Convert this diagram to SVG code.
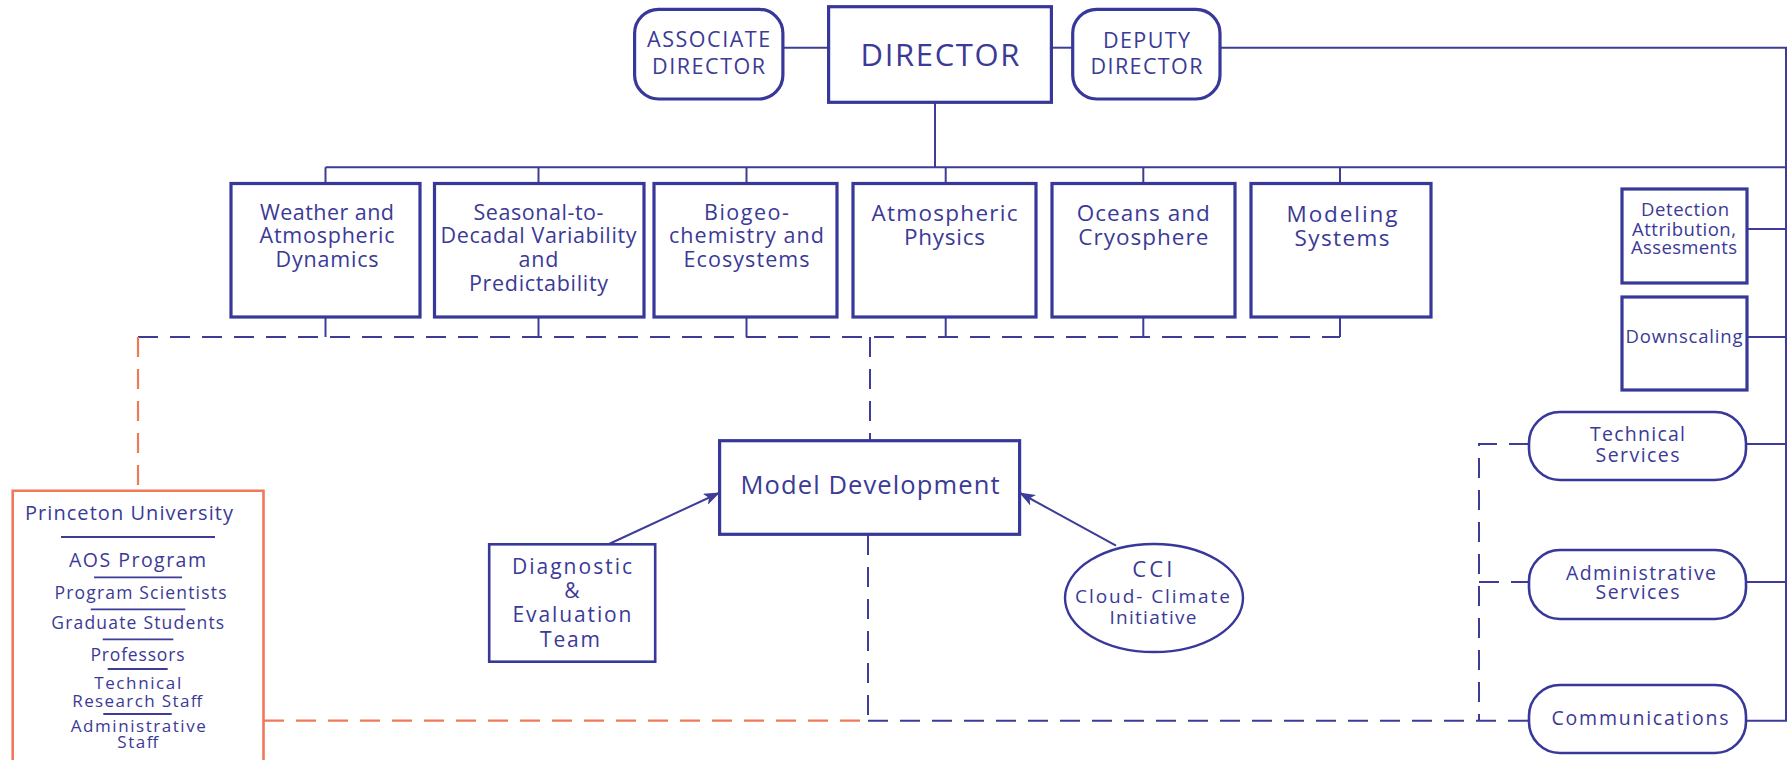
<svg xmlns="http://www.w3.org/2000/svg" width="1790" height="760" viewBox="0 0 1790 760">
<defs>
<style>
.bx{fill:#fff;stroke:#38379a;stroke-width:3.2}
.bt{fill:#fff;stroke:#38379a;stroke-width:2.6}
.ln{fill:none;stroke:#3d3c98;stroke-width:2}
.dl{fill:none;stroke:#3d3c98;stroke-width:2;stroke-dasharray:20 12}
.od{fill:none;stroke:#f0795b;stroke-width:2.2;stroke-dasharray:20 12}
.ob{fill:#fff;stroke:#f0795b;stroke-width:2.6}
.sep{stroke:#3d3c98;stroke-width:1.8}
text{font-family:"Open Sans","Noto Sans","DejaVu Sans",sans-serif;fill:#3b3a96;text-anchor:middle}
</style>
<marker id="ah" markerWidth="16" markerHeight="12" refX="15" refY="6" orient="auto" markerUnits="userSpaceOnUse">
<path d="M0,0 L16,6 L0,12 L4,6 Z" fill="#3d3c98"/>
</marker>
</defs>
<rect width="1790" height="760" fill="#fff"/>

<g id="connectors">
<line class="ln" x1="782" y1="47.7" x2="829" y2="47.7"/>
<line class="ln" x1="1051" y1="47.7" x2="1073" y2="47.7"/>
<polyline class="ln" points="1220,47.7 1786,47.7 1786,720.7 1746,720.7"/>
<line class="ln" x1="935" y1="102" x2="935" y2="167.3"/>
<line class="ln" x1="325.5" y1="167.3" x2="1786" y2="167.3"/>
<line class="ln" x1="325.5" y1="167.3" x2="325.5" y2="183.5"/>
<line class="ln" x1="538.5" y1="167.3" x2="538.5" y2="183.5"/>
<line class="ln" x1="746.5" y1="167.3" x2="746.5" y2="183.5"/>
<line class="ln" x1="945.7" y1="167.3" x2="945.7" y2="183.5"/>
<line class="ln" x1="1143.3" y1="167.3" x2="1143.3" y2="183.5"/>
<line class="ln" x1="1340" y1="167.3" x2="1340" y2="183.5"/>
<line class="ln" x1="325.5" y1="317" x2="325.5" y2="337"/>
<line class="ln" x1="538.5" y1="317" x2="538.5" y2="337"/>
<line class="ln" x1="746.5" y1="317" x2="746.5" y2="337"/>
<line class="ln" x1="945.7" y1="317" x2="945.7" y2="337"/>
<line class="ln" x1="1143.3" y1="317" x2="1143.3" y2="337"/>
<line class="ln" x1="1340" y1="317" x2="1340" y2="337"/>
<line class="ln" x1="1747" y1="229" x2="1786" y2="229"/>
<line class="ln" x1="1747" y1="337" x2="1786" y2="337"/>
<line class="ln" x1="1746" y1="444" x2="1786" y2="444"/>
<line class="ln" x1="1746" y1="582" x2="1786" y2="582"/>
<line class="dl" x1="138" y1="337" x2="1340" y2="337"/>
<line class="od" x1="138" y1="337" x2="138" y2="491"/>
<line class="dl" x1="870" y1="337" x2="870" y2="440"/>
<line class="dl" x1="868" y1="535" x2="868" y2="720.7"/>
<line class="od" x1="264" y1="720.7" x2="868" y2="720.7"/>
<line class="dl" x1="868" y1="720.7" x2="1529" y2="720.7"/>
<polyline class="dl" points="1529,444 1479,444 1479,720.7"/>
<line class="dl" x1="1479" y1="582" x2="1529" y2="582"/>
<line class="ln" x1="609" y1="544" x2="719" y2="493" marker-end="url(#ah)"/>
<line class="ln" x1="1116" y1="545.7" x2="1020" y2="493" marker-end="url(#ah)"/>
</g>

<g id="associate-director">
<rect class="bx" x="634.6" y="9.3" width="148.3" height="89.7" rx="24"/>
<text x="708.6" y="46.7" font-size="21.5" textLength="123" lengthAdjust="spacing">ASSOCIATE</text>
<text x="708.6" y="74" font-size="21.5" textLength="113" lengthAdjust="spacing">DIRECTOR</text>
</g>
<g id="director">
<rect class="bx" x="828.6" y="6.7" width="222.8" height="95.6"/>
<text x="940" y="65.7" font-size="31" textLength="159" lengthAdjust="spacing">DIRECTOR</text>
</g>
<g id="deputy-director">
<rect class="bx" x="1072.7" y="9.3" width="147.3" height="89.7" rx="24"/>
<text x="1146.5" y="47.7" font-size="21.5" textLength="87" lengthAdjust="spacing">DEPUTY</text>
<text x="1146.5" y="74" font-size="21.5" textLength="112" lengthAdjust="spacing">DIRECTOR</text>
</g>

<g id="weather">
<rect class="bx" x="231" y="183.5" width="189" height="133.5"/>
<text x="327" y="220" font-size="21.5" textLength="134" lengthAdjust="spacing">Weather and</text>
<text x="327" y="242.7" font-size="21.5" textLength="135" lengthAdjust="spacing">Atmospheric</text>
<text x="327" y="266.7" font-size="21.5" textLength="103" lengthAdjust="spacing">Dynamics</text>
</g>
<g id="seasonal">
<rect class="bx" x="434.5" y="183.5" width="209.5" height="133.5"/>
<text x="538.5" y="220" font-size="21.5" textLength="130" lengthAdjust="spacing">Seasonal-to-</text>
<text x="538.5" y="243.3" font-size="21.5" textLength="196" lengthAdjust="spacing">Decadal Variability</text>
<text x="538.5" y="266.7" font-size="21.5" textLength="40" lengthAdjust="spacing">and</text>
<text x="538.5" y="290.7" font-size="21.5" textLength="139" lengthAdjust="spacing">Predictability</text>
</g>
<g id="biogeochemistry">
<rect class="bx" x="654" y="183.5" width="183" height="133.5"/>
<text x="746.5" y="220" font-size="21.5" textLength="85" lengthAdjust="spacing">Biogeo-</text>
<text x="746.5" y="243.3" font-size="21.5" textLength="155" lengthAdjust="spacing">chemistry and</text>
<text x="746.5" y="266.7" font-size="21.5" textLength="126" lengthAdjust="spacing">Ecosystems</text>
</g>
<g id="atmospheric-physics">
<rect class="bx" x="853" y="183.5" width="183" height="133.5"/>
<text x="944.5" y="220.7" font-size="22.5" textLength="146" lengthAdjust="spacing">Atmospheric</text>
<text x="944.5" y="245" font-size="22.5" textLength="81" lengthAdjust="spacing">Physics</text>
</g>
<g id="oceans">
<rect class="bx" x="1052" y="183.5" width="183" height="133.5"/>
<text x="1143.3" y="220.7" font-size="22.5" textLength="133" lengthAdjust="spacing">Oceans and</text>
<text x="1143.3" y="245" font-size="22.5" textLength="130" lengthAdjust="spacing">Cryosphere</text>
</g>
<g id="modeling-systems">
<rect class="bx" x="1251" y="183.5" width="180" height="133.5"/>
<text x="1342" y="221.7" font-size="22.5" textLength="111" lengthAdjust="spacing">Modeling</text>
<text x="1342" y="246" font-size="22.5" textLength="95" lengthAdjust="spacing">Systems</text>
</g>

<g id="detection">
<rect class="bx" x="1622" y="189" width="125" height="94"/>
<text x="1685" y="216" font-size="18.5" textLength="88" lengthAdjust="spacing">Detection</text>
<text x="1684" y="235.7" font-size="18.5" textLength="104" lengthAdjust="spacing">Attribution,</text>
<text x="1684" y="254" font-size="18.5" textLength="106" lengthAdjust="spacing">Assesments</text>
</g>
<g id="downscaling">
<rect class="bx" x="1622" y="297" width="125" height="93"/>
<text x="1684" y="343.3" font-size="18.5" textLength="117" lengthAdjust="spacing">Downscaling</text>
</g>
<g id="technical-services">
<rect class="bt" x="1529" y="412" width="217" height="68" rx="31"/>
<text x="1637.5" y="440.6" font-size="19.5" textLength="95" lengthAdjust="spacing">Technical</text>
<text x="1637.5" y="461.7" font-size="19.5" textLength="84" lengthAdjust="spacing">Services</text>
</g>
<g id="administrative-services">
<rect class="bt" x="1529" y="550" width="217" height="69" rx="31"/>
<text x="1641" y="580" font-size="19.5" textLength="150" lengthAdjust="spacing">Administrative</text>
<text x="1637.5" y="599.3" font-size="19.5" textLength="84" lengthAdjust="spacing">Services</text>
</g>
<g id="communications">
<rect class="bt" x="1529" y="685" width="217" height="68" rx="31"/>
<text x="1640" y="725" font-size="19.5" textLength="177" lengthAdjust="spacing">Communications</text>
</g>

<g id="model-development">
<rect class="bx" x="719.6" y="440.7" width="300" height="93.6"/>
<text x="870" y="494" font-size="25.5" textLength="259" lengthAdjust="spacing">Model Development</text>
</g>
<g id="diagnostic">
<rect class="bt" x="489.2" y="544.3" width="166" height="117.4"/>
<text x="572" y="574" font-size="21" textLength="120" lengthAdjust="spacing">Diagnostic</text>
<text x="572" y="597.7" font-size="21">&amp;</text>
<text x="572" y="622.3" font-size="21" textLength="119" lengthAdjust="spacing">Evaluation</text>
<text x="570" y="646.7" font-size="21" textLength="60" lengthAdjust="spacing">Team</text>
</g>
<g id="cci">
<ellipse cx="1154" cy="598" rx="89" ry="54" fill="#fff" stroke="#38379a" stroke-width="2.4"/>
<text x="1152.3" y="576.7" font-size="22" textLength="40" lengthAdjust="spacing">CCI</text>
<text x="1152.5" y="603.3" font-size="19" textLength="155" lengthAdjust="spacing">Cloud- Climate</text>
<text x="1153" y="624.3" font-size="19" textLength="87" lengthAdjust="spacing">Initiative</text>
</g>

<g id="princeton">
<path class="ob" d="M12.7,775 L12.7,490.7 L263.5,490.7 L263.5,775"/>
<text x="129" y="520" font-size="20" textLength="208" lengthAdjust="spacing">Princeton University</text>
<line class="sep" x1="61" y1="537" x2="215" y2="537"/>
<text x="137.5" y="566.7" font-size="19.5" textLength="137" lengthAdjust="spacing">AOS Program</text>
<line class="sep" x1="94" y1="577.3" x2="182" y2="577.3"/>
<text x="140.5" y="599" font-size="17.5" textLength="172" lengthAdjust="spacing">Program Scientists</text>
<line class="sep" x1="90.7" y1="609.3" x2="185.3" y2="609.3"/>
<text x="137.7" y="629.3" font-size="17.5" textLength="173" lengthAdjust="spacing">Graduate Students</text>
<line class="sep" x1="102.7" y1="639.3" x2="173.3" y2="639.3"/>
<text x="137.5" y="660.7" font-size="17.5" textLength="94" lengthAdjust="spacing">Professors</text>
<line class="sep" x1="107.7" y1="669" x2="167.7" y2="669"/>
<text x="137.7" y="689.3" font-size="17" textLength="87" lengthAdjust="spacing">Technical</text>
<text x="137.3" y="706.7" font-size="17" textLength="130" lengthAdjust="spacing">Research Staff</text>
<line class="sep" x1="103.3" y1="714" x2="171.7" y2="714"/>
<text x="138.3" y="732.3" font-size="17" textLength="135" lengthAdjust="spacing">Administrative</text>
<text x="137.8" y="748.3" font-size="17" textLength="41" lengthAdjust="spacing">Staff</text>
</g>
</svg>
